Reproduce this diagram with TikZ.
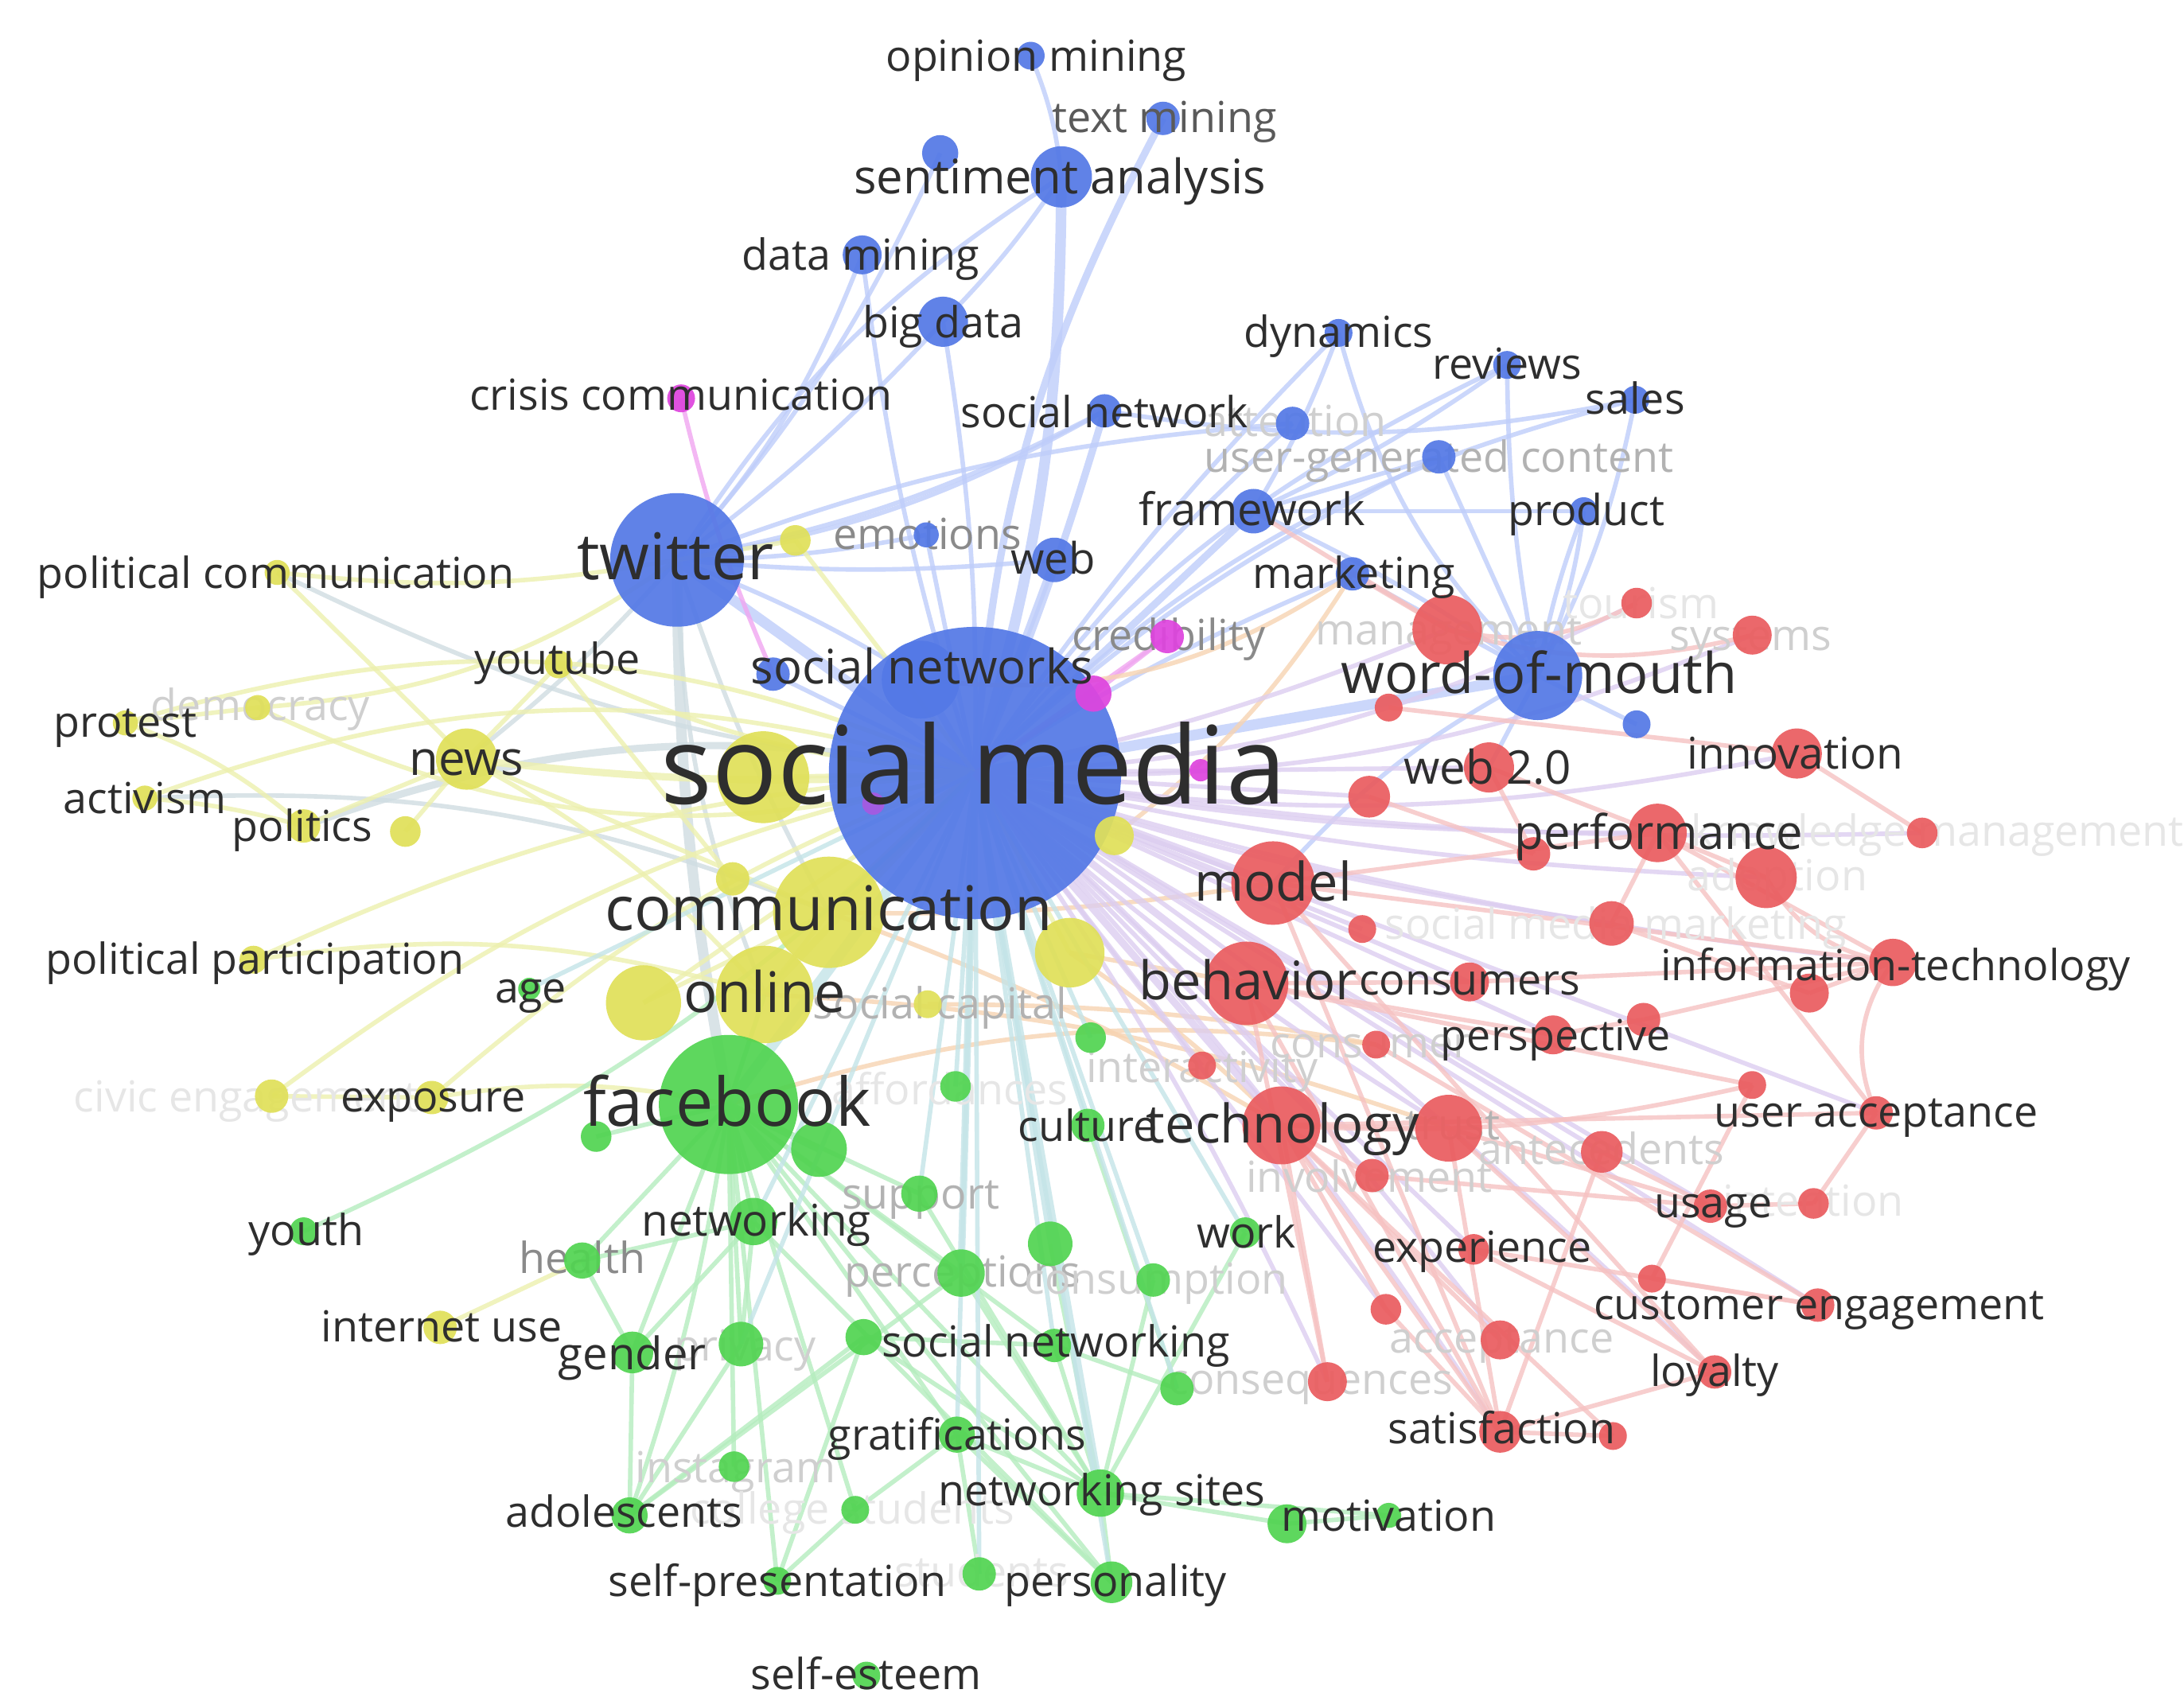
\documentclass[tikz,border=0pt]{standalone}
\usepackage{fontspec}
\setmainfont{Open Sans}
\pgfdeclarelayer{bg}\pgfdeclarelayer{fgl}\pgfdeclarelayer{fg}
\pgfsetlayers{bg,fgl,main,fg}
\definecolor{cB}{HTML}{5479E6}
\definecolor{cR}{HTML}{EA5D60}
\definecolor{cG}{HTML}{52D452}
\definecolor{cY}{HTML}{E0E05A}
\definecolor{cM}{HTML}{DE45DE}
\definecolor{eB}{HTML}{BFCDFA}
\definecolor{eR}{HTML}{F6C2C2}
\definecolor{eG}{HTML}{B5EDBE}
\definecolor{eY}{HTML}{EDF0AE}
\definecolor{eM}{HTML}{F0A6F0}
\definecolor{eP}{HTML}{DCCDF0}
\definecolor{eO}{HTML}{F7D4B2}
\definecolor{eX}{HTML}{D0DDE2}
\definecolor{eT}{HTML}{C4E4E8}
\definecolor{tD}{HTML}{2E2E2E}
\definecolor{tM2}{HTML}{5A5A5A}
\definecolor{tM}{HTML}{8A8A8A}
\definecolor{tL2}{HTML}{B2B2B2}
\definecolor{tL}{HTML}{CFCFCF}
\definecolor{tVL}{HTML}{E6E6E6}
\tikzset{
 dot/.style={circle,inner sep=0pt,outer sep=0pt,draw=none,fill opacity=0.93},
 lbl/.style={inner sep=0pt,anchor=mid},
 edg/.style={line width=1.6pt,opacity=0.8},
 eb/.style={edg,draw=eB}, er/.style={edg,draw=eR}, eg/.style={edg,draw=eG},
 ey/.style={edg,draw=eY}, em/.style={edg,draw=eM}, ep/.style={edg,draw=eP},
 eo/.style={edg,draw=eO}, ex/.style={edg,draw=eX}, et/.style={edg,draw=eT},
 lw2/.style={line width=2.6pt}, lw3/.style={line width=3.8pt}
}
\newcommand{\Kw}[8]{\node[dot,fill=#4,minimum size={#3*0.995pt}] (#1) at (#2) {};%
 \begin{pgfonlayer}{fg}\node[lbl,yshift={-0.19*#6pt},text=#7,font=\fontsize{#6pt}{#6pt}\selectfont] (#1-t) at (#5) {#8};\end{pgfonlayer}}
\newcommand{\Kf}[8]{\node[dot,fill=#4,minimum size={#3*0.995pt}] (#1) at (#2) {};%
 \begin{pgfonlayer}{fgl}\node[lbl,yshift={-0.19*#6pt},text=#7,font=\fontsize{#6pt}{#6pt}\selectfont] (#1-t) at (#5) {#8};\end{pgfonlayer}}
\newcommand{\Dt}[4]{\node[dot,fill=#4,minimum size={#3*0.995pt}] (#1) at (#2) {};}
\newcommand{\Ed}[4][0]{\draw[#2] (#3.center) to[bend left=#1] (#4.center);}
\begin{document}
\begin{tikzpicture}[x=0.175mm,y=-0.175mm]
\useasboundingbox (0,0) rectangle (1568,1224);
\begin{pgfonlayer}{bg}\fill[white] (0,0) rectangle (1568,1224);\end{pgfonlayer}
% ---------- blue
\Kw{om}{740,40}{10}{cB}{744,40}{15.3}{tD}{opinion mining}
\Kw{tm}{835,85}{12}{cB}{836,84}{15.3}{tM2}{text mining}
\Kw{sa}{762,127}{22}{cB}{761,127}{17}{tD}{sentiment analysis}
\Dt{bu1}{675,110}{13}{cB}
\Kw{dm}{619,183}{14}{cB}{618,183}{15.3}{tD}{data mining}
\Kw{bd}{677,231}{18}{cB}{677,231}{15.3}{tD}{big data}
\Kw{dyn}{961,239}{10}{cB}{961,238}{15.3}{tD}{dynamics}
\Kw{rev}{1082,262}{10}{cB}{1082,261}{15.3}{tD}{reviews}
\Kw{sal}{1174,287}{10}{cB}{1174,286}{15.3}{tD}{sales}
\Kw{sn}{793,295}{12}{cB}{793,296}{15.3}{tD}{social network}
\Kf{att}{928,304}{12}{cB}{930,302}{15.3}{tL}{attention}
\Kf{ugc}{1033,328}{12}{cB}{1033,328}{15.3}{tL2}{user-generated content}
\Kw{fw}{900,367}{16}{cB}{899,366}{16}{tD}{framework}
\Kw{prod}{1137,367}{10}{cB}{1139,366}{15.3}{tD}{product}
\Kf{emo}{665,384}{9}{cB}{666,383}{15.3}{tM}{emotions}
\Kw{web}{757,402}{16}{cB}{756,401}{15.5}{tD}{web}
\Kw{mkt}{971,412}{12}{cB}{972,411}{15.3}{tD}{marketing}
\Kw{tw}{486,402}{48}{cB}{485,402}{23}{tD}{twitter}
\Kw{sns}{661,488}{28}{cB}{662,479}{17}{tD}{social networks}
\Dt{bu2}{555,484}{12}{cB}
\Kw{sm}{700,555}{105}{cB}{699,557}{38.6}{tD}{social media}
\Kw{wom}{1104,485}{32}{cB}{1105,485}{20}{tD}{word-of-mouth}
\Dt{bu3}{1175,520}{10}{cB}
% ---------- magenta
\Kw{cc}{489,286}{10}{cM}{489,283}{15.3}{tD}{crisis communication}
\Kf{cred}{838,457}{12}{cM}{839,456}{15.3}{tM}{credibility}
\Dt{mg1}{785,498}{13}{cM}
\Dt{mg2}{862,553}{8}{cM}
\Dt{mg3}{627,577}{8}{cM!60!cB}
% ---------- yellow
\Kw{pc}{199,411}{9}{cY}{198,411}{15.3}{tD}{political communication}
\Dt{yu1}{571,388}{11}{cY}
\Kw{yt}{401,477}{10}{cY}{400,473}{15.3}{tD}{youtube}
\Kw{prot}{90,519}{9}{cY}{90,518}{15.3}{tD}{protest}
\Kf{dem}{185,508}{9}{cY}{187,506}{15.3}{tL}{democracy}
\Kw{news}{335,545}{22}{cY}{335,545}{17}{tD}{news}
\Kw{act}{104,573}{9}{cY}{104,573}{15.3}{tD}{activism}
\Kw{pol}{218,593}{12}{cY}{217,593}{15.3}{tD}{politics}
\Dt{yu2}{291,597}{11}{cY}
\Dt{yu3}{548,558}{33}{cY}
\Dt{yu4}{800,600}{14}{cY}
\Dt{yu5}{526,631}{12}{cY}
\Kw{comm}{595,655}{40}{cY}{595,654}{22}{tD}{communication}
\Dt{yu6}{768,684}{25}{cY}
\Kw{pp}{182,689}{10}{cY}{183,688}{15.3}{tD}{political participation}
\Dt{yu7}{462,720}{27}{cY}
\Kw{onl}{549,714}{35}{cY}{549,714}{20}{tD}{online}
\Kf{scap}{666,721}{10}{cY}{675,720}{15.3}{tL2}{social capital}
\Kf{civ}{195,787}{12}{cY}{177,787}{15.3}{tVL}{civic engagement}
\Kw{expo}{310,788}{12}{cY}{311,787}{15.3}{tD}{exposure}
\Kw{iu}{316,953}{12}{cY}{317,952}{15.3}{tD}{internet use}
% ---------- green
\Kw{age}{380,710}{8}{cG}{381,709}{15.3}{tD}{age}
\Kw{fb}{523,793}{50}{cG}{522,794}{24}{tD}{facebook}
\Dt{gu1}{428,816}{11}{cG}
\Dt{gu2}{588,825}{20}{cG}
\Dt{gu3}{783,745}{11}{cG}
\Kf{aff}{686,780}{11}{cG}{682,782}{15.3}{tVL}{affordances}
\Kw{cult}{781,808}{12}{cG}{781,808}{15.3}{tD}{culture}
\Kf{sup}{660,857}{13}{cG}{661,857}{15.3}{tL2}{support}
\Kw{netw}{541,877}{17}{cG}{543,876}{15.6}{tD}{networking}
\Kw{youth}{218,884}{10}{cG}{220,883}{15.3}{tD}{youth}
\Kf{hlth}{418,905}{13}{cG}{418,903}{15.3}{tM}{health}
\Kw{work}{894,885}{11}{cG}{895,885}{15.3}{tD}{work}
\Dt{gu4}{754,893}{16}{cG}
\Kf{perc}{690,914}{17}{cG}{691,913}{15.3}{tL2}{perceptions}
\Kf{cons}{828,919}{12}{cG}{830,918}{15.3}{tL}{consumption}
\Kw{gend}{454,971}{15}{cG}{454,972}{16}{tD}{gender}
\Kf{priv}{532,965}{16}{cG}{535,966}{15.3}{tL}{privacy}
\Kw{snw}{757,966}{12}{cG}{758,963}{15.3}{tD}{social networking}
\Dt{gu5}{620,960}{13}{cG}
\Dt{gu6}{845,997}{12}{cG}
\Kw{grat}{687,1030}{13}{cG}{687,1030}{15.3}{tD}{gratifications}
\Kf{inst}{527,1053}{11}{cG}{528,1053}{15.3}{tL}{instagram}
\Kw{adol}{452,1088}{13}{cG}{448,1085}{15.3}{tD}{adolescents}
\Kf{coll}{614,1084}{10}{cG}{612,1083}{15.3}{tVL}{college students}
\Kw{nws}{790,1072}{17}{cG}{791,1070}{15.3}{tD}{networking sites}
\Kw{mot}{997,1088}{9}{cG}{997,1088}{15.3}{tD}{motivation}
\Dt{gu7}{924,1094}{14}{cG}
\Kw{spres}{558,1135}{10}{cG}{558,1135}{15.3}{tD}{self-presentation}
\Kf{stud}{703,1130}{12}{cG}{705,1128}{15.3}{tVL}{students}
\Kw{pers}{798,1136}{15}{cG}{801,1135}{15.3}{tD}{personality}
\Kw{sest}{622,1203}{10}{cG}{622,1202}{15.3}{tD}{self-esteem}
% ---------- red
\Kf{mgmt}{1039,452}{25}{cR}{1040,452}{15.3}{tL}{management}
\Kf{tour}{1175,433}{11}{cR}{1178,433}{15.3}{tVL}{tourism}
\Kf{sys}{1258,456}{14}{cR}{1257,456}{15.3}{tL}{systems}
\Dt{ru1}{997,508}{10}{cR}
\Kw{inn}{1290,541}{18}{cR}{1289,541}{15.6}{tD}{innovation}
\Kw{w20}{1069,551}{18}{cR}{1068,551}{16.6}{tD}{web 2.0}
\Dt{ru2}{983,572}{15}{cR}
\Kw{perf}{1190,598}{21}{cR}{1191,598}{17}{tD}{performance}
\Dt{ru3}{1101,613}{12}{cR}
\Kf{km}{1380,598}{11}{cR}{1391,596}{15.3}{tVL}{knowledge management}
\Kf{adop}{1268,630}{22}{cR}{1276,628}{15.3}{tVL}{adoption}
\Kw{model}{914,634}{30}{cR}{914,634}{19}{tD}{model}
\Dt{ru4}{978,667}{10}{cR}
\Kf{smm}{1157,663}{16}{cR}{1160,663}{15.3}{tVL}{social media marketing}
\Kw{it}{1359,691}{17}{cR}{1361,693}{15.3}{tD}{information-technology}
\Dt{ru5}{1299,713}{14}{cR}
\Kw{beh}{895,706}{30}{cR}{896,705}{19}{tD}{behavior}
\Kw{csmrs}{1055,705}{14}{cR}{1055,703}{15.3}{tD}{consumers}
\Dt{ru6}{1180,732}{12}{cR}
\Kw{persp}{1115,743}{14}{cR}{1117,743}{15.3}{tD}{perspective}
\Kf{csmr}{988,750}{10}{cR}{984,748}{15.3}{tL}{consumer}
\Kf{inter}{863,765}{10}{cR}{863,766}{15.3}{tL}{interactivity}
\Dt{ru7}{1258,779}{10}{cR}
\Kw{ua}{1347,799}{12}{cR}{1347,798}{15.3}{tD}{user acceptance}
\Kw{tech}{920,808}{28}{cR}{921,808}{19}{tD}{technology}
\Kf{trust}{1040,810}{24}{cR}{1043,807}{15.3}{tL2}{trust}
\Kf{ante}{1150,827}{15}{cR}{1150,825}{15.3}{tL}{antecedents}
\Kf{invol}{985,844}{12}{cR}{983,845}{15.3}{tL}{involvement}
\Kw{usage}{1228,866}{12}{cR}{1230,863}{15.3}{tD}{usage}
\Kf{intn}{1302,864}{11}{cR}{1302,862}{15.3}{tVL}{intention}
\Kw{exp}{1058,897}{11}{cR}{1064,895}{15.3}{tD}{experience}
\Dt{ru8}{1186,918}{10}{cR}
\Kw{ce}{1305,937}{12}{cR}{1306,936}{15.3}{tD}{customer engagement}
\Dt{ru9}{995,940}{11}{cR}
\Kf{acc}{1077,962}{14}{cR}{1078,960}{15.3}{tL}{acceptance}
\Kf{conq}{953,992}{14}{cR}{941,990}{15.3}{tL}{consequences}
\Kw{loy}{1231,985}{12}{cR}{1231,984}{15.3}{tD}{loyalty}
\Kw{sat}{1077,1028}{15}{cR}{1078,1025}{15.3}{tD}{satisfaction}
\Dt{ru10}{1158,1031}{10}{cR}
% ---------- edges
\begin{pgfonlayer}{bg}
% blue
\Ed[-8]{eb,lw3}{sm}{sa}
\Ed[12]{eb,lw2}{sm}{tm}
\Ed[-8]{eb}{sa}{om}
\Ed[5]{eb}{sa}{bd}
\Ed[8]{eb}{bu1}{tw}
\Ed[10]{eb}{dm}{tw}
\Ed[-5]{eb}{dm}{sm}
\Ed[5]{eb}{bd}{sm}
\Ed[5]{eb}{bd}{tw}
\Ed[-12]{eb}{sa}{tw}
\Ed[3]{eb,lw2}{sn}{sm}
\Ed[8]{eb}{sn}{tw}
\Ed[-5]{eb}{dyn}{sm}
\Ed[5]{eb}{dyn}{fw}
\Ed[-12]{eb}{rev}{sm}
\Ed[-15]{eb}{sal}{sm}
\Ed[8]{eb}{sal}{wom}
\Ed[-5]{eb}{rev}{wom}
\Ed[10]{eb}{sal}{sn}
\Ed[5]{eb}{rev}{fw}
\Ed[0]{eb}{ugc}{wom}
\Ed[0]{eb}{ugc}{fw}
\Ed[-8]{eb}{ugc}{sm}
\Ed[-5]{eb}{prod}{wom}
\Ed[8]{eb}{prod}{wom}
\Ed[0]{eb}{prod}{fw}
\Ed[0]{eb,lw2}{fw}{sm}
\Ed[5]{eb}{fw}{wom}
\Ed[-5]{eb}{mkt}{sm}
\Ed[0]{eb}{mkt}{wom}
\Ed[0]{eb,lw2}{web}{sm}
\Ed[5]{eb}{web}{tw}
\Ed[0]{eb}{emo}{sm}
\Ed[5]{eb}{emo}{tw}
\Ed[-5]{eb}{att}{sm}
\Ed[-8]{eb}{att}{tw}
\Ed[-10]{eb}{tw}{sn}
\Ed[0]{eb,lw3}{tw}{sm}
\Ed[5]{eb}{tw}{sns}
\Ed[0]{eb,lw2}{sns}{sm}
\Ed[0]{eb}{bu2}{sm}
\Ed[0]{eb,lw3}{wom}{sm}
\Ed[0]{eb}{wom}{w20}
\Ed[0]{eb}{wom}{bu3}
\Ed[15]{eb}{wom}{dyn}
\Ed[-10]{eb}{wom}{model}
% magenta
\Ed[-5]{em}{cc}{bu2}
\Ed[0]{em}{cred}{mg1}
\Ed[0]{em}{cred}{sm}
\Ed[0]{em}{mg1}{sm}
% grey-blue
\Ed[-5]{ex,lw3}{tw}{fb}
\Ed[-10]{ex}{tw}{onl}
\Ed[-5]{ex}{tw}{comm}
\Ed[5]{ex}{tw}{news}
\Ed[15]{ex,lw2}{pol}{sm}
\Ed[12]{ex}{act}{comm}
\Ed[-10]{ex}{pc}{sm}
% yellow
\Ed[-8]{ey}{pc}{tw}
\Ed[0]{ey}{pc}{news}
\Ed[-20]{ey}{dem}{sm}
\Ed[-15]{ey}{dem}{tw}
\Ed[0]{ey}{dem}{prot}
\Ed[10]{ey}{prot}{pol}
\Ed[20]{ey}{prot}{sm}
\Ed[5]{ey}{act}{pol}
\Ed[18]{ey}{act}{sm}
\Ed[0]{ey}{pol}{news}
\Ed[0]{ey}{yu2}{news}
\Ed[-5]{ey,lw2}{news}{sm}
\Ed[0]{ey}{news}{yt}
\Ed[10]{ey}{news}{onl}
\Ed[0]{ey}{news}{comm}
\Ed[0]{ey}{yt}{yu5}
\Ed[-10]{ey}{yt}{sm}
\Ed[0]{ey}{yu1}{sm}
\Ed[0]{ey}{yu1}{tw}
\Ed[12]{ey}{pp}{onl}
\Ed[10]{ey}{pp}{sm}
\Ed[10]{ey}{expo}{fb}
\Ed[0]{ey}{civ}{expo}
\Ed[12]{ey}{civ}{sm}
\Ed[10]{ey}{expo}{sm}
\Ed[0]{ey}{iu}{hlth}
\Ed[0]{ey,lw3}{comm}{sm}
\Ed[0]{ey,lw2}{onl}{sm}
\Ed[0]{ey}{yu3}{sm}
\Ed[0]{ey}{yu7}{sm}
\Ed[0]{ey}{yu6}{sm}
\Ed[0]{ey}{yu4}{sm}
\Ed[0]{ey}{comm}{onl}
\Ed[0]{ey}{yu7}{comm}
% orange
\Ed[5]{eo}{comm}{tech}
\Ed[8]{eo}{onl}{trust}
\Ed[0]{eo}{yu6}{beh}
\Ed[-10]{eo}{yu4}{mkt}
\Ed[5]{eo}{scap}{csmr}
\Ed[5]{eo}{yu6}{tech}
\Ed[-5]{eo}{comm}{model}
\Ed[-20]{eo}{sns}{mkt}
\Ed[12]{eo}{fb}{csmr}
% green
\Ed[0]{et,lw3}{fb}{sm}
\Ed[0]{eg}{fb}{netw}
\Ed[0]{eg}{fb}{gend}
\Ed[0]{eg}{fb}{hlth}
\Ed[0]{eg}{fb}{gu1}
\Ed[0]{eg,lw2}{fb}{gu2}
\Ed[0]{eg}{fb}{priv}
\Ed[0]{eg}{fb}{snw}
\Ed[0]{eg}{fb}{grat}
\Ed[5]{eg}{fb}{adol}
\Ed[0]{eg}{fb}{inst}
\Ed[0]{eg}{fb}{nws}
\Ed[0]{eg}{fb}{pers}
\Ed[0]{eg}{fb}{spres}
\Ed[0]{eg}{fb}{coll}
\Ed[0]{eg}{fb}{sup}
\Ed[0]{eg}{fb}{perc}
\Ed[0]{eg}{fb}{onl}
\Ed[-10]{eg}{youth}{sm}
\Ed[0]{et}{age}{sm}
\Ed[0]{eg}{hlth}{gend}
\Ed[0]{eg}{hlth}{netw}
\Ed[0]{eg}{gend}{netw}
\Ed[0]{eg}{gend}{adol}
\Ed[0]{eg}{netw}{priv}
\Ed[0]{eg}{gu5}{adol}
\Ed[0]{eg}{gu5}{snw}
\Ed[0]{eg}{gu5}{nws}
\Ed[0]{eg}{gu5}{spres}
\Ed[0]{eg}{snw}{nws}
\Ed[0]{eg}{grat}{nws}
\Ed[0]{eg}{grat}{pers}
\Ed[0]{eg}{grat}{coll}
\Ed[0]{eg}{stud}{grat}
\Ed[0]{eg}{pers}{nws}
\Ed[0]{eg}{nws}{mot}
\Ed[0]{eg}{nws}{gu7}
\Ed[0]{eg}{gu7}{mot}
\Ed[0]{eg}{gu4}{nws}
\Ed[0]{eg}{cons}{nws}
\Ed[0]{eg}{work}{nws}
\Ed[0]{eg}{gu6}{snw}
\Ed[0]{eg}{cult}{gu6}
\Ed[0]{eg}{perc}{adol}
\Ed[0]{eg}{perc}{nws}
\Ed[0]{eg}{priv}{adol}
\Ed[0]{eg}{coll}{spres}
\Ed[0]{eg}{netw}{pers}
\Ed[0]{eg}{sup}{nws}
\Ed[0]{et}{sm}{sup}
\Ed[0]{et,lw2}{sm}{perc}
\Ed[0]{et}{sm}{priv}
\Ed[0]{et}{sm}{grat}
\Ed[0]{et}{sm}{snw}
\Ed[0]{et,lw2}{sm}{nws}
\Ed[0]{et}{sm}{gu3}
\Ed[0]{et}{sm}{aff}
\Ed[0]{et}{sm}{gu4}
\Ed[0]{et}{sm}{cons}
\Ed[0]{et}{sm}{cult}
\Ed[0]{et}{sm}{work}
\Ed[0]{et}{sm}{netw}
\Ed[0]{et}{sm}{gu6}
\Ed[0]{et}{sm}{stud}
\Ed[0]{et}{sm}{pers}
% social media to red (purple blend)
\Ed[0]{ep,lw2}{sm}{model}
\Ed[0]{ep,lw2}{sm}{beh}
\Ed[0]{ep,lw2}{sm}{tech}
\Ed[-5]{ep}{sm}{trust}
\Ed[0]{ep}{sm}{w20}
\Ed[-5]{ep}{sm}{perf}
\Ed[-10]{ep}{sm}{inn}
\Ed[-5]{ep}{sm}{mgmt}
\Ed[-12]{ep}{sm}{tour}
\Ed[-12]{ep}{sm}{sys}
\Ed[0]{ep}{sm}{csmrs}
\Ed[0]{ep}{sm}{persp}
\Ed[-5]{ep}{sm}{smm}
\Ed[-5]{ep}{sm}{adop}
\Ed[-5]{ep}{sm}{it}
\Ed[0]{ep}{sm}{ua}
\Ed[0]{ep}{sm}{ante}
\Ed[0]{ep}{sm}{usage}
\Ed[5]{ep}{sm}{sat}
\Ed[5]{ep}{sm}{loy}
\Ed[0]{ep}{sm}{ce}
\Ed[0]{ep}{sm}{exp}
\Ed[5]{ep}{sm}{acc}
\Ed[5]{ep}{sm}{conq}
\Ed[-5]{ep}{sm}{km}
\Ed[0]{ep}{sm}{ru2}
\Ed[0]{ep}{sm}{ru4}
\Ed[0]{ep}{sm}{inter}
\Ed[0]{ep}{sm}{invol}
\Ed[0]{ep}{sm}{ru9}
% red
\Ed[0]{er}{mgmt}{mkt}
\Ed[-20]{er}{mgmt}{tour}
\Ed[0]{er}{mgmt}{fw}
\Ed[-15]{er}{mgmt}{sys}
\Ed[0]{er}{inn}{km}
\Ed[0]{er}{ru1}{inn}
\Ed[0]{er}{perf}{adop}
\Ed[0]{er}{perf}{it}
\Ed[0]{er}{perf}{ua}
\Ed[-25]{er}{adop}{it}
\Ed[-30]{er}{it}{ua}
\Ed[0]{er}{it}{ru5}
\Ed[0]{er}{ru5}{smm}
\Ed[0]{er}{persp}{ru6}
\Ed[0]{er}{ru6}{it}
\Ed[0]{er}{smm}{perf}
\Ed[0]{er}{csmrs}{it}
\Ed[0]{er}{csmrs}{beh}
\Ed[0]{er}{tech}{trust}
\Ed[0]{er}{tech}{acc}
\Ed[0]{er}{tech}{sat}
\Ed[0]{er}{tech}{conq}
\Ed[0]{er}{trust}{sat}
\Ed[0]{er}{trust}{loy}
\Ed[0]{er}{trust}{usage}
\Ed[0]{er}{ante}{usage}
\Ed[0]{er}{ante}{sat}
\Ed[0]{er}{usage}{intn}
\Ed[0]{er}{ua}{intn}
\Ed[8]{er}{ru7}{tech}
\Ed[0]{er}{ru7}{ru8}
\Ed[0]{er}{exp}{ce}
\Ed[0]{er}{ru8}{ce}
\Ed[0]{er}{exp}{loy}
\Ed[0]{er}{beh}{conq}
\Ed[0]{er}{beh}{sat}
\Ed[0]{er}{model}{sat}
\Ed[0]{er}{model}{loy}
\Ed[0]{er}{ru9}{tech}
\Ed[0]{er}{ru9}{sat}
\Ed[0]{er}{loy}{sat}
\Ed[0]{er}{ru10}{sat}
\Ed[0]{er}{ru10}{tech}
\Ed[0]{er}{csmr}{ce}
\Ed[0]{er}{invol}{usage}
\Ed[0]{er}{invol}{tech}
\Ed[0]{er}{model}{it}
\Ed[0]{er}{model}{perf}
\Ed[0]{er}{beh}{persp}
\Ed[0]{er}{w20}{perf}
\Ed[0]{er}{w20}{ru3}
\Ed[0]{er}{ru2}{ru3}
\Ed[0]{er}{tech}{ua}
\Ed[0]{er}{beh}{ru7}
\end{pgfonlayer}
\end{tikzpicture}
\end{document}
